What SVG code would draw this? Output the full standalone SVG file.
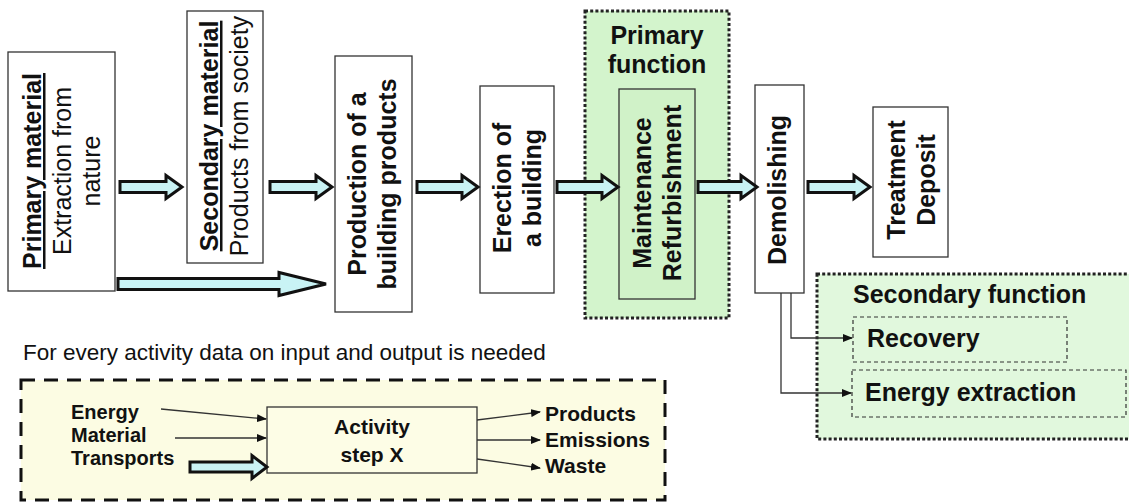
<svg xmlns="http://www.w3.org/2000/svg" width="1129" height="502" viewBox="0 0 1129 502">
  <style>
    text { font-family: "Liberation Sans", Arial, sans-serif; fill: #111; }
    .b { font-weight: bold; }
    .big { font-size: 25px; }
    .leg { font-size: 21px; font-weight: bold; }
    .in { font-size: 20px; font-weight: bold; }
    .u { text-decoration: underline; }
    .box { fill: #ffffff; stroke: #333; stroke-width: 1.3; }
    .flow { fill: #c9f3f5; stroke: #111; stroke-width: 3; stroke-linejoin: miter; }
    .thin { fill: none; stroke: #333; stroke-width: 1.3; }
    .dot { stroke: #222; stroke-width: 3; stroke-dasharray: 3 2.2; }
    .dash { fill: none; stroke: #333; stroke-width: 1.2; stroke-dasharray: 4 3; }
  </style>
  <defs>
    <marker id="tip" markerWidth="10" markerHeight="8" refX="9" refY="4" orient="auto" markerUnits="userSpaceOnUse">
      <path d="M0,0 L10,4 L0,8 Z" fill="#111"/>
    </marker>
  </defs>

  <!-- function areas -->
  <g id="primary-function">
    <rect x="585" y="11" width="144" height="307" fill="#d3f4cc" class="dot"/>
    <text class="b big" x="657" y="44" text-anchor="middle">Primary</text>
    <text class="b big" x="657" y="73" text-anchor="middle">function</text>
  </g>
  <g id="secondary-function">
    <rect x="817" y="274" width="320" height="165" fill="#e1f8dd" class="dot"/>
    <text class="b big" x="853" y="303">Secondary function</text>
  </g>

  <!-- life-cycle stages -->
  <g id="primary-material">
    <rect class="box" x="8" y="52" width="107" height="239"/>
    <text class="big" transform="translate(41,171) rotate(-90)" text-anchor="middle"><tspan class="b u">Primary  material</tspan></text>
    <text class="big" transform="translate(71,171) rotate(-90)" text-anchor="middle">Extraction from</text>
    <text class="big" transform="translate(100,171) rotate(-90)" text-anchor="middle">nature</text>
  </g>
  <g id="secondary-material">
    <rect class="box" x="187" y="11" width="76" height="252"/>
    <text class="big" transform="translate(218,136) rotate(-90)" text-anchor="middle"><tspan class="b u">Secondary material</tspan></text>
    <text class="big" transform="translate(248,136) rotate(-90)" text-anchor="middle">Products from society</text>
  </g>
  <g id="production">
    <rect class="box" x="335" y="56" width="77" height="256"/>
    <text class="b big" transform="translate(366,184) rotate(-90)" text-anchor="middle">Production of a</text>
    <text class="b big" transform="translate(396,184) rotate(-90)" text-anchor="middle">building  products</text>
  </g>
  <g id="erection">
    <rect class="box" x="480" y="86" width="74" height="207"/>
    <text class="b big" transform="translate(511,188) rotate(-90)" text-anchor="middle">Erection of</text>
    <text class="b big" transform="translate(541,188) rotate(-90)" text-anchor="middle">a building</text>
  </g>
  <g id="maintenance">
    <rect x="619" y="89" width="76" height="210" fill="#d0f2c8" stroke="#333" stroke-width="1.3"/>
    <text class="b big" transform="translate(651,193) rotate(-90)" text-anchor="middle">Maintenance</text>
    <text class="b big" transform="translate(681,193) rotate(-90)" text-anchor="middle">Refurbishment</text>
  </g>
  <g id="demolishing">
    <rect class="box" x="755" y="85" width="49" height="208"/>
    <text class="b big" transform="translate(786,190) rotate(-90)" text-anchor="middle">Demolishing</text>
  </g>
  <g id="treatment">
    <rect class="box" x="873" y="107" width="75" height="150"/>
    <text class="b big" transform="translate(905,180) rotate(-90)" text-anchor="middle">Treatment</text>
    <text class="b big" transform="translate(935,180) rotate(-90)" text-anchor="middle">Deposit</text>
  </g>
  <g id="recovery">
    <rect class="dash" x="853" y="317" width="214" height="45"/>
    <text class="b big" x="867" y="347">Recovery</text>
  </g>
  <g id="energy-extraction">
    <rect class="dash" x="852" y="370" width="274" height="47"/>
    <text class="b big" x="865" y="401">Energy extraction</text>
  </g>

  <!-- material flow arrows and recovery links -->
  <g id="connectors">
    <path class="flow" d="M120,181.5 H166 V175.5 L182,187 L166,198.5 V192.5 H120 Z"/>
    <path class="flow" d="M270,181.5 H316 V175.5 L332,187 L316,198.5 V192.5 H270 Z"/>
    <path class="flow" d="M417,181.5 H462 V175.5 L478,187 L462,198.5 V192.5 H417 Z"/>
    <path class="flow" d="M557,181.5 H602 V175.5 L618,187 L602,198.5 V192.5 H557 Z"/>
    <path class="flow" d="M698,181.5 H741 V175.5 L757,187 L741,198.5 V192.5 H698 Z"/>
    <path class="flow" d="M808,181.5 H854 V175.5 L870,187 L854,198.5 V192.5 H808 Z"/>
    <path class="flow" d="M118,278.5 H279 V272.5 L326,284 L279,295.5 V289.5 H118 Z"/>
    <polyline class="thin" points="791,293 791,338 852,338" marker-end="url(#tip)"/>
    <polyline class="thin" points="781,293 781,393 851,393" marker-end="url(#tip)"/>
  </g>

  <!-- input / output scheme for one activity -->
  <text x="23" y="360" font-size="22.5">For every activity data on input and output is needed</text>
  <g id="activity-legend">
    <rect x="21" y="380" width="644" height="120" fill="#fcfce3" stroke="#111" stroke-width="3" stroke-dasharray="14 9"/>
  </g>
  <g id="activity-step">
    <rect x="267" y="407" width="210" height="66" fill="#fdfde6" stroke="#333" stroke-width="1.3"/>
    <text class="leg" x="372" y="434" text-anchor="middle">Activity</text>
    <text class="leg" x="372" y="462" text-anchor="middle">step X</text>
  </g>
  <g id="inputs">
    <text class="in" x="71" y="419">Energy</text>
    <text class="in" x="71" y="442">Material</text>
    <text class="in" x="71" y="465">Transports</text>
  </g>
  <g id="outputs">
    <text class="leg" x="545" y="421">Products</text>
    <text class="leg" x="545" y="447">Emissions</text>
    <text class="leg" x="545" y="473">Waste</text>
  </g>
  <g id="legend-connectors">
    <line class="thin" x1="161" y1="409" x2="266" y2="419" marker-end="url(#tip)"/>
    <line class="thin" x1="175" y1="438" x2="266" y2="438" marker-end="url(#tip)"/>
    <path class="flow" d="M190,462 H252 V455.5 L267,467 L252,478.5 V472 H190 Z"/>
    <line class="thin" x1="477" y1="420" x2="540" y2="412" marker-end="url(#tip)"/>
    <line class="thin" x1="477" y1="440" x2="540" y2="440" marker-end="url(#tip)"/>
    <line class="thin" x1="477" y1="459" x2="540" y2="468" marker-end="url(#tip)"/>
  </g>
</svg>
